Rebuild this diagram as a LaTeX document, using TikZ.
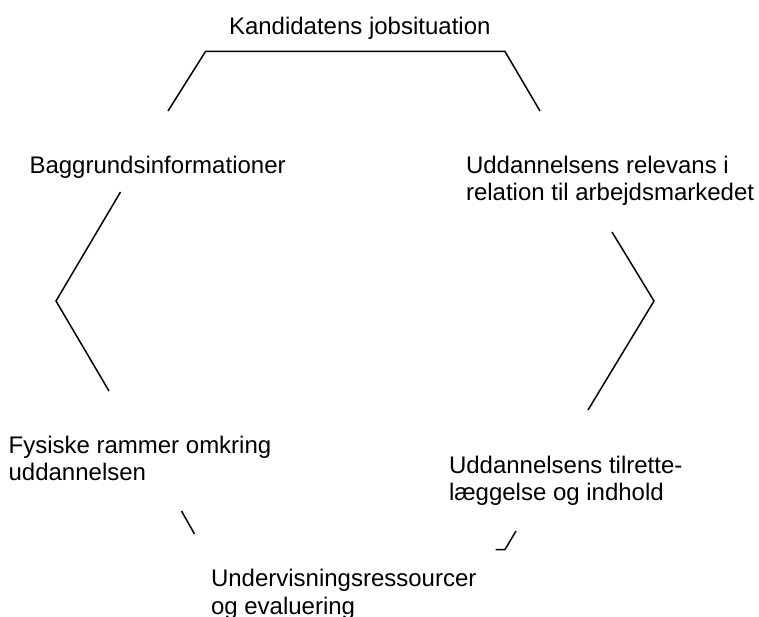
\documentclass[tikz,border=0pt]{standalone}
\usepackage{fontspec}
\setmainfont{Liberation Sans}
\begin{document}
\begin{tikzpicture}[x=1pt,y=-1pt,
  lbl/.style={anchor=base west,inner sep=0pt,outer sep=0pt,align=left,font=\fontsize{24}{27.5}\selectfont},
  seg/.style={draw=black,line width=1.5pt,line join=miter}]
\useasboundingbox (0,0) rectangle (759,617);
% labels (base anchor = baseline of last line)
\node[lbl] (top) at (229,34.6) {Kandidatens jobsituation};
\node[lbl] (bg) at (29.5,174) {Baggrundsinformationer};
\node[lbl] (rel) at (466,200.7) {Uddannelsens relevans i\\relation til arbejdsmarkedet};
\node[lbl] (fys) at (8.6,480.5) {Fysiske rammer omkring\\uddannelsen};
\node[lbl] (til) at (449,500.5) {Uddannelsens tilrette-\\læggelse og indhold};
\node[lbl] (und) at (211,614) {Undervisningsressourcer\\og evaluering};
% outline coordinates
\coordinate (a1) at (168,111);
\coordinate (a2) at (205.5,51.5);
\coordinate (a3) at (505,51.5);
\coordinate (a4) at (540,111);
\coordinate (b1) at (120.5,192);
\coordinate (b2) at (56,301);
\coordinate (b3) at (109,391);
\coordinate (c1) at (612,232);
\coordinate (c2) at (654,301);
\coordinate (c3) at (588,410);
\coordinate (d1) at (181.5,511);
\coordinate (d2) at (194.5,534);
\coordinate (e1) at (516,531);
\coordinate (e2) at (505,549.5);
\coordinate (e3) at (495.5,549.5);
\draw[seg] (a1) -- (a2) -- (a3) -- (a4);
\draw[seg] (b1) -- (b2) -- (b3);
\draw[seg] (c1) -- (c2) -- (c3);
\draw[seg] (d1) -- (d2);
\draw[seg] (e1) -- (e2) -- (e3);
\end{tikzpicture}
\end{document}
